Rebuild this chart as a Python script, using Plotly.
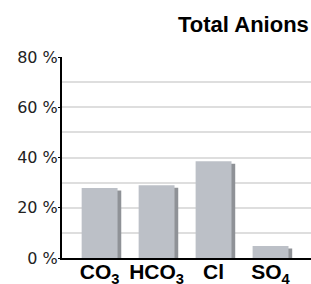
import plotly.graph_objects as go

categories = ["<b>CO<sub>3</sub></b>", "<b>HCO<sub>3</sub></b>", "<b>Cl</b>", "<b>SO<sub>4</sub></b>"]
values = [27.9, 29.0, 38.5, 4.8]
y_ticks = [0, 20, 40, 60, 80]
y_tick_labels = ["0 %", "20 %", "40 %", "60 %", "80 %"]
title_text = "<b>Total Anions</b>"

font_family = "Liberation Sans, Arial, Helvetica, sans-serif"
bar_w = 0.63
shadow_dx = 0.065
shadow_dy = 1.0

fig = go.Figure()
fig.add_trace(go.Bar(
    x=categories, y=[v - shadow_dy for v in values],
    width=bar_w, offset=-bar_w / 2 + shadow_dx,
    marker=dict(color="#8f9297", line=dict(width=0)),
    hoverinfo="skip", showlegend=False,
))
fig.add_trace(go.Bar(
    x=categories, y=values,
    width=bar_w, offset=-bar_w / 2,
    marker=dict(color="#bcc0c7", line=dict(width=0)),
    showlegend=False,
))

fig.update_layout(
    width=311, height=284,
    margin=dict(l=62, r=0, t=57, b=26),
    barmode="overlay",
    plot_bgcolor="white", paper_bgcolor="white",
    font=dict(family=font_family, color="#222222"),
    title=dict(text=title_text, x=0.993, xanchor="right", xref="container",
               y=0.915, yanchor="middle", yref="container",
               font=dict(size=22, color="#000000", family=font_family)),
)
fig.update_xaxes(
    range=[-0.66, 3.71], automargin=False,
    showline=True, linecolor="#000000", linewidth=2,
    showgrid=False, ticks="",
    ticklabelstandoff=-6,
    tickfont=dict(size=21, color="#000000", family=font_family),
)
fig.update_yaxes(
    range=[0, 80], automargin=False,
    tickvals=y_ticks, ticktext=y_tick_labels,
    showline=True, linecolor="#000000", linewidth=2,
    ticks="outside", ticklen=2, tickcolor="#000000", tickwidth=1,
    ticklabelstandoff=-3,
    showgrid=True, gridcolor="#dedede", gridwidth=1.5,
    minor=dict(dtick=10, showgrid=True, gridcolor="#dedede", gridwidth=1.5, ticks=""),
    zeroline=False,
    tickfont=dict(size=16, color="#222222", family="DejaVu Sans, sans-serif"),
)

fig.write_html("out.html", config={"displayModeBar": False},
               post_script="document.body.style.margin='0';document.body.style.overflow='hidden';")
